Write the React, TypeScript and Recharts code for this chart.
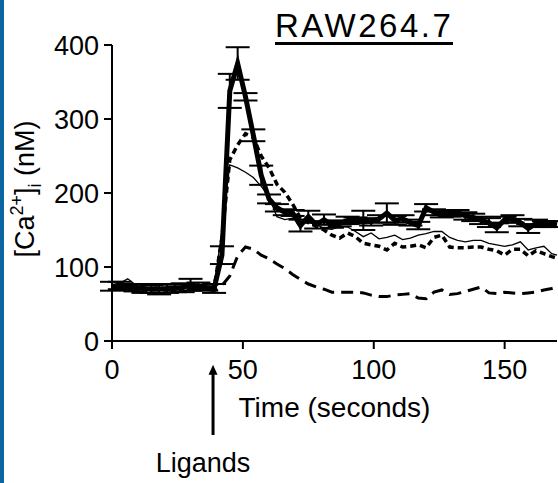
import { ErrorBar, Label, Line, LineChart, ReferenceLine, XAxis, YAxis } from "recharts";

const FONT = "'Liberation Sans', Arial, sans-serif";

// time in seconds
const TIME = [
  0, 3, 6, 9, 12, 15, 18, 21, 24, 27, 30, 33, 36, 39, 42, 45, 48, 51, 54, 57, 60, 63, 66, 69,
  72, 75, 78, 81, 84, 87, 90, 93, 96, 99, 102, 105, 108, 111, 114, 117, 120, 123, 126, 129,
  132, 135, 138, 141, 144, 147, 150, 153, 156, 159, 162, 165, 168, 170,
];

// thick solid trace, mean +/- SEM
const MEAN = [
  74, 75, 73, 72, 71, 70, 70, 71, 71, 72, 76, 74, 72, 71, 116, 338, 375, 330, 278, 224, 192, 180,
  174, 173, 156, 168, 157, 164, 157, 159, 163, 163, 163, 161, 165, 173, 163, 165, 160, 156, 180,
  174, 171, 172, 173, 169, 167, 163, 160, 153, 164, 165, 160, 152, 159, 158, 158, 157,
];
const SEM = [
  6, 5, 4, 5, 6, 5, 7, 6, 5, 6, 8, 5, 4, 6, 12, 23, 22, 5, 8, 13, 6, 5, 4, 4, 8, 8, 5, 7, 4, 4, 5,
  4, 13, 5, 5, 13, 6, 5, 4, 5, 5, 4, 4, 4, 4, 5, 5, 5, 6, 6, 4, 5, 5, 6, 5, 4, 4, 0,
];

// short-dash trace
const DOTTED = [
  72, 74, 73, 71, 70, 71, 72, 70, 72, 73, 75, 72, 71, 71, 140, 245, 265, 280, 275, 250, 234, 212,
  201, 185, 166, 160, 155, 150, 143, 139, 146, 141, 132, 130, 128, 123, 132, 127, 128, 130, 126,
  140, 143, 127, 126, 126, 127, 127, 124, 122, 116, 124, 124, 115, 122, 118, 114, 112,
];

// thin solid trace
const THIN = [
  74, 78, 84, 76, 72, 70, 68, 70, 70, 72, 78, 76, 72, 72, 150, 238, 234, 228, 221, 209, 195, 168,
  164, 166, 165, 160, 158, 152, 151, 155, 154, 148, 141, 146, 138, 140, 143, 137, 139, 143, 145,
  148, 148, 140, 136, 134, 136, 136, 132, 130, 128, 130, 134, 123, 126, 128, 118, 116,
];

// long-dash trace
const DASHED = [
  72, 70, 71, 73, 70, 69, 70, 70, 71, 70, 72, 72, 70, 68, 75, 88, 115, 127, 124, 116, 111, 104,
  98, 90, 83, 77, 73, 70, 66, 66, 66, 66, 65, 62, 60, 60, 62, 63, 64, 58, 57, 66, 69, 63, 64, 67,
  70, 73, 65, 64, 66, 65, 64, 65, 66, 69, 71, 73,
];

const X_TICKS = [0, 50, 100, 150];
const Y_TICKS = [0, 100, 200, 300, 400];

// ligand addition arrow, drawn below the axis
const LIGAND_TIME = 38.6;
const ARROW_TAIL = -127;
const ARROW_TIP = -32;

const rows = TIME.map((t, i) => ({
  t,
  mean: MEAN[i],
  sem: SEM[i],
  dotted: DOTTED[i],
  thin: THIN[i],
  dashed: DASHED[i],
}));

function YTitle(props: any) {
  const vb = props.viewBox ?? { x: 52, y: 45, width: 60, height: 296 };
  const cx = vb.x - 18;
  const cy = vb.y + vb.height / 2 - 4;
  return (
    <text
      x={cx}
      y={cy}
      transform={`rotate(-90, ${cx}, ${cy})`}
      textAnchor="middle"
      fontSize={27}
      fontFamily={FONT}
      fill="#000"
    >
      [Ca
      <tspan fontSize={18} dy={-11}>
        2+
      </tspan>
      <tspan dy={11}>]</tspan>
      <tspan fontSize={18} dy={7}>
        i
      </tspan>
      <tspan dy={-7}>{" (nM)"}</tspan>
    </text>
  );
}

function XTitle(props: any) {
  const vb = props.viewBox ?? { x: 112, y: 341, width: 445, height: 30 };
  return (
    <text
      x={vb.x + vb.width / 2}
      y={vb.y + 76}
      textAnchor="middle"
      fontSize={28}
      fontFamily={FONT}
      fill="#000"
    >
      Time (seconds)
    </text>
  );
}

function LigandsArrow(props: any) {
  const { x1, y1, y2 } = props;
  return (
    <g>
      <line x1={x1} y1={y1} x2={x1} y2={y2 + 8} stroke="#000" strokeWidth={3} />
      <polygon points={`${x1},${y2} ${x1 - 4.5},${y2 + 10} ${x1 + 4.5},${y2 + 10}`} fill="#000" />
      <text x={x1 - 10} y={y1 + 37} textAnchor="middle" fontSize={27} fontFamily={FONT} fill="#000">
        Ligands
      </text>
    </g>
  );
}

export default function App() {
  return (
    <div style={{ position: "absolute", left: 0, top: 0, width: 558, height: 483, background: "#fff" }}>
      <div style={{ position: "absolute", left: 0, top: 0, width: 4, height: 483, background: "#0b65a1" }} />
      <div
        style={{
          position: "absolute",
          left: 275,
          top: 9,
          fontFamily: FONT,
          fontSize: 33,
          lineHeight: "33px",
          letterSpacing: 2.5,
          borderBottom: "3px solid #000",
          color: "#000",
        }}
      >
        RAW264.7
      </div>
      <LineChart width={558} height={483} data={rows} margin={{ top: 45, right: 1, bottom: 112, left: 52 }}>
        <XAxis
          dataKey="t"
          type="number"
          domain={[0, 170]}
          ticks={X_TICKS}
          height={30}
          tickSize={8}
          tickMargin={11}
          axisLine={{ stroke: "#000", strokeWidth: 2 }}
          tickLine={{ stroke: "#000", strokeWidth: 2 }}
          tick={{ fontSize: 27, fill: "#000", fontFamily: FONT }}
        >
          <Label content={XTitle} />
        </XAxis>
        <YAxis
          type="number"
          domain={[0, 400]}
          ticks={Y_TICKS}
          width={60}
          tickSize={8}
          tickMargin={5}
          axisLine={{ stroke: "#000", strokeWidth: 2 }}
          tickLine={{ stroke: "#000", strokeWidth: 2 }}
          tick={{ fontSize: 27, fill: "#000", fontFamily: FONT }}
        >
          <Label content={YTitle} />
        </YAxis>
        <Line
          dataKey="dashed"
          stroke="#000"
          strokeWidth={3}
          strokeDasharray="12 7"
          dot={false}
          activeDot={false}
          isAnimationActive={false}
        />
        <Line
          dataKey="thin"
          stroke="#000"
          strokeWidth={1.3}
          dot={false}
          activeDot={false}
          isAnimationActive={false}
        />
        <Line
          dataKey="dotted"
          stroke="#000"
          strokeWidth={3.5}
          strokeDasharray="6 4"
          dot={false}
          activeDot={false}
          isAnimationActive={false}
        />
        <Line
          dataKey="mean"
          stroke="#000"
          strokeWidth={5}
          dot={false}
          activeDot={false}
          isAnimationActive={false}
        >
          <ErrorBar dataKey="sem" direction="y" width={12} strokeWidth={2} stroke="#000" />
        </Line>
        <ReferenceLine
          segment={[
            { x: LIGAND_TIME, y: ARROW_TAIL },
            { x: LIGAND_TIME, y: ARROW_TIP },
          ]}
          ifOverflow="visible"
          shape={LigandsArrow}
        />
      </LineChart>
    </div>
  );
}
